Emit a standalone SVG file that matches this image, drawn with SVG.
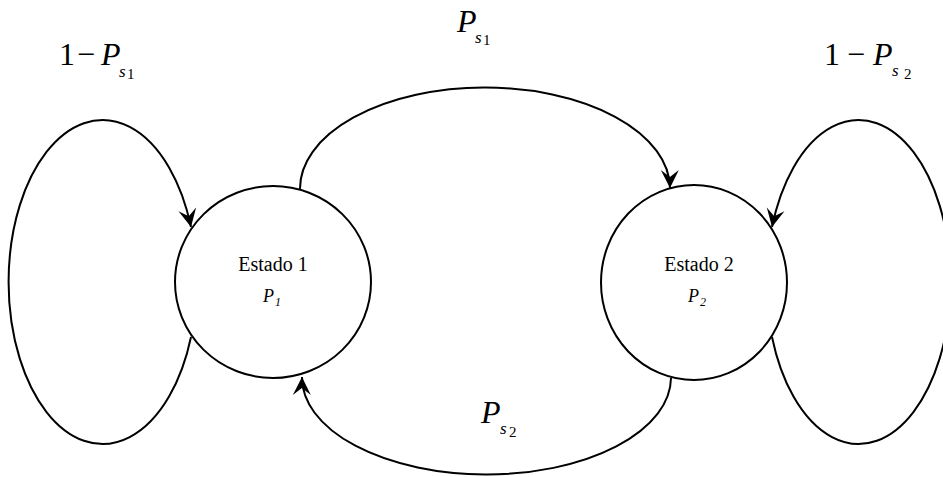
<svg xmlns="http://www.w3.org/2000/svg" width="943" height="477" viewBox="0 0 943 477" font-family="'Liberation Serif','Times New Roman',Times,serif">
<style>
.node{fill:#fff;stroke:#000;stroke-width:2}
.edge{fill:none;stroke:#000;stroke-width:2;marker-end:url(#arr)}
text{font-family:"Liberation Serif","Times New Roman",Times,serif;fill:#000}
.lbl{font-size:32px}
.it{font-style:italic}
.sub{font-size:17px;font-style:italic}
.subn{font-size:15px;font-style:normal}
.nt{font-size:20px}
.np{font-size:18px;font-style:italic}
</style>
<defs>
<marker id="arr" viewBox="0 0 20 20" refX="19" refY="10" markerWidth="20" markerHeight="20" markerUnits="userSpaceOnUse" orient="auto">
<path d="M19,10 L1,1 L8,10 L1,19 z" fill="#000"/>
</marker>
</defs>
<g id="connectors">
<path class="edge" d="M191,337 A94,162 0 1 1 191,227"/>
<path class="edge" d="M772,337 A92,162 0 1 0 772,227"/>
<path class="edge" d="M300,189 A185,101 0 0 1 670,188"/>
<path class="edge" d="M671,378 A184.5,97 0 0 1 302,377"/>
</g>
<g id="estado1">
<ellipse class="node" cx="273" cy="282" rx="98" ry="96"/>
<text class="nt" x="273" y="271" text-anchor="middle">Estado 1</text>
<text class="np" x="263" y="302">P<tspan font-size="12" dx="1" dy="4">1</tspan></text>
</g>
<g id="estado2">
<ellipse class="node" cx="694" cy="282.5" rx="93" ry="97.5"/>
<text class="nt" x="699" y="271" text-anchor="middle">Estado 2</text>
<text class="np" x="688" y="302">P<tspan font-size="12" dx="1" dy="4">2</tspan></text>
</g>
<g id="label-loop1">
<text class="lbl" y="65"><tspan x="59">1</tspan><tspan x="77">−</tspan><tspan class="it" x="101">P</tspan><tspan class="sub" x="119" y="77">s</tspan><tspan class="subn" x="127" y="79">1</tspan></text>
</g>
<g id="label-12">
<text class="lbl" y="32"><tspan class="it" x="457">P</tspan><tspan class="sub" x="475" y="43">s</tspan><tspan class="subn" x="483" y="45">1</tspan></text>
</g>
<g id="label-loop2">
<text class="lbl" y="65"><tspan x="824">1</tspan><tspan x="847">−</tspan><tspan class="it" x="873">P</tspan><tspan class="sub" x="892" y="76">s</tspan><tspan class="subn" x="904" y="79">2</tspan></text>
</g>
<g id="label-21">
<text class="lbl" y="423"><tspan class="it" x="481">P</tspan><tspan class="sub" x="500" y="434">s</tspan><tspan class="subn" x="509" y="437">2</tspan></text>
</g>
</svg>
